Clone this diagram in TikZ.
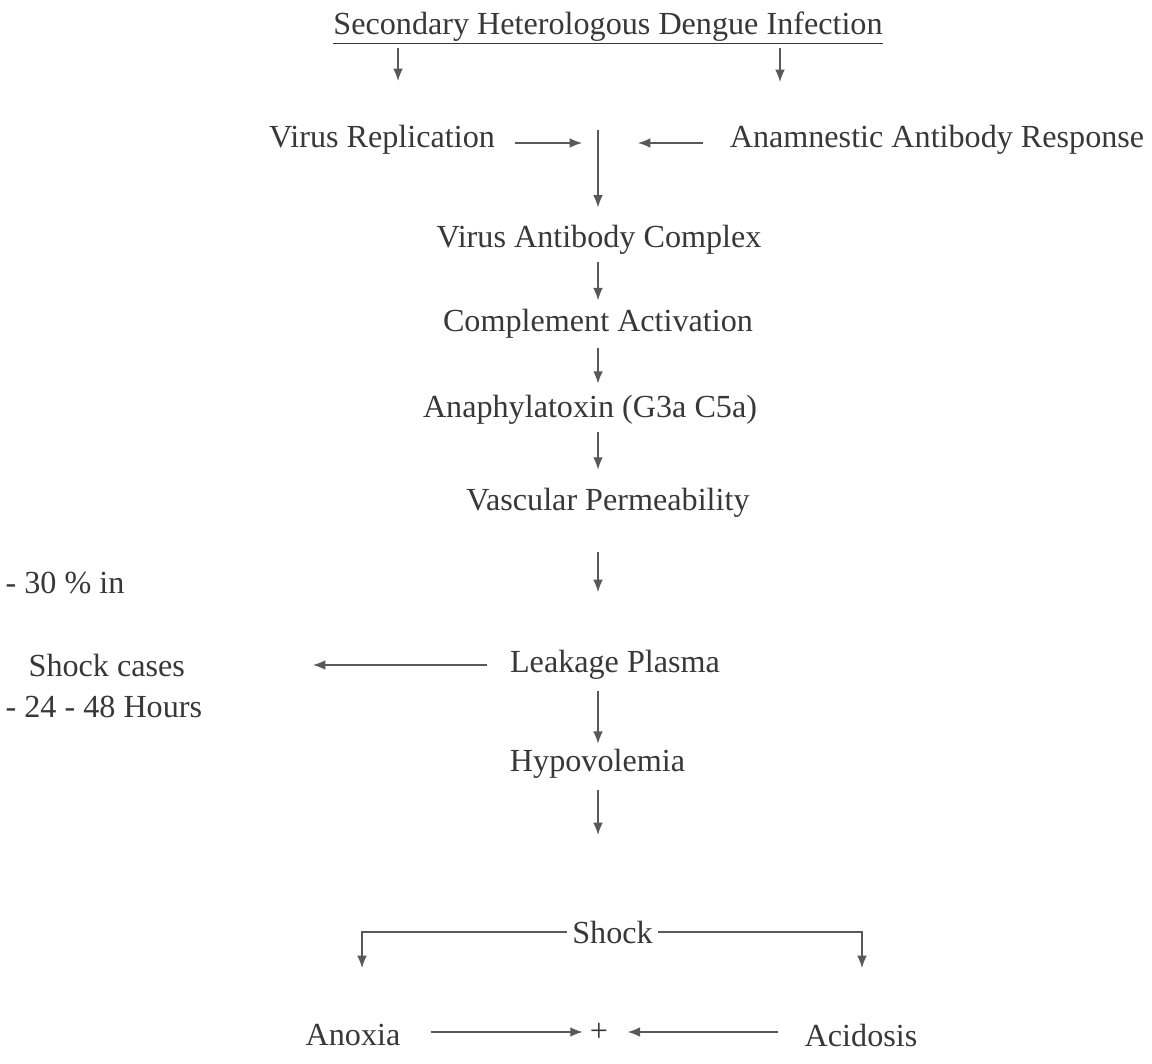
\documentclass[tikz,border=0pt]{standalone}
\usepackage{fontspec}
\setmainfont{Liberation Serif}
\usetikzlibrary{arrows.meta}
\usetikzlibrary{positioning}

\begin{document}
\begin{tikzpicture}[>={Latex[length=7pt,width=5.5pt]}]
		\tikzstyle{lbl}=[inner sep=3pt, text=black!78, font=\fontsize{18.3}{21}\selectfont]
		\tikzstyle{connect}=[->, line width=0.75pt, draw=black!65]
		\path[fill=white] (0,0) rectangle (23.04,-21.28);
		% main chain
		\node[lbl] (title) at (12.16,-0.56) {\underline{Secondary Heterologous Dengue Infection}};
		\node[lbl] (vr) at (7.64,-2.80) {Virus Replication};
		\node[lbl] (aar) at (18.74,-2.80) {Anamnestic Antibody Response};
		\node[lbl] (vac) at (11.98,-4.80) {Virus Antibody Complex};
		\node[lbl] (ca) at (11.96,-6.48) {Complement Activation};
		\node[lbl] (ana) at (11.80,-8.20) {Anaphylatoxin (G3a C5a)};
		\node[lbl] (vp) at (12.16,-10.06) {Vascular Permeability};
		\node[lbl] (lp) at (12.30,-13.30) {Leakage Plasma};
		\node[lbl] (hyp) at (11.95,-15.28) {Hypovolemia};
		\node[lbl] (shock) at (12.25,-18.64) {Shock};
		\node[lbl] (anoxia) at (7.06,-20.70) {Anoxia};
		\node[lbl] (acid) at (17.22,-20.70) {Acidosis};
		\node[lbl, inner sep=1pt] (plus) at (11.98,-20.64) {+};
		% side notes
		\node[lbl, anchor=west] (n1) at (0.0,-11.66) {- 30 \% in};
		\node[lbl, anchor=west] (n2) at (0.46,-13.30) {Shock cases};
		\node[lbl, anchor=west] (n3) at (0.0,-14.14) {- 24 - 48 Hours};
		% free ends
		\coordinate (axis) at (11.96,0);
		\coordinate (t1) at (7.96,-0.96);
		\coordinate (t1e) at (7.96,-1.62);
		\coordinate (t2) at (15.60,-0.96);
		\coordinate (t2e) at (15.60,-1.64);
		\coordinate (junc) at (11.96,-2.60);
		\coordinate (inl) at (11.64,-2.86);
		\coordinate (inr) at (12.76,-2.86);
		\coordinate (hypend) at (11.96,-16.70);
		\coordinate (lb) at (7.24,-19.36);
		\coordinate (rb) at (17.24,-19.36);
		\path
		(t1) edge [connect] (t1e)
		(t2) edge [connect] (t2e)
		(vr.east |- inl) edge [connect, shorten <=8pt] (inl)
		(aar.west |- inr) edge [connect, shorten <=12pt] (inr)
		(junc) edge [connect, shorten >=7pt] (junc |- vac.north)
		(vac.south -| axis) edge [connect, shorten <=1pt, shorten >=2pt] (ca.north -| axis)
		(ca.south -| axis) edge [connect, shorten <=2pt, shorten >=3.5pt] (ana.north -| axis)
		(ana.south -| axis) edge [connect, shorten <=1pt, shorten >=7.5pt] (vp.north -| axis)
		(vp.south -| axis) edge [connect, shorten <=16.5pt, shorten >=30pt] (lp.north -| axis)
		(lp.west) edge [connect, shorten <=10pt] (n2.east -| 6.26,0)
		(lp.south -| axis) edge [connect, shorten <=3pt] (hyp.north -| axis)
		(hyp.south -| axis) edge [connect, shorten <=3.5pt] (hypend)
		(anoxia.east |- plus.west) edge [connect, shorten <=14pt, shorten >=3pt] (plus.west)
		(acid.west |- plus.east) edge [connect, shorten <=12pt, shorten >=10pt] (plus.east)
		;
		\draw[connect] (shock.west) -| (lb);
		\draw[connect] (shock.east) -| (rb);
	\end{tikzpicture}
\end{document}
